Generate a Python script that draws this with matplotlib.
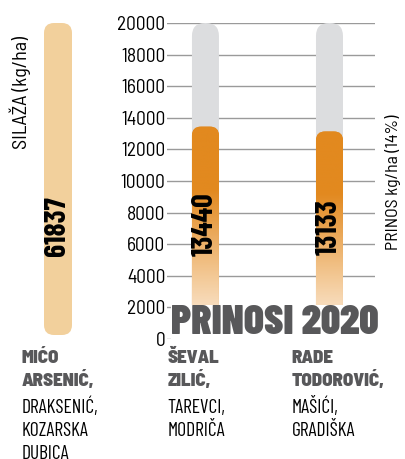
import numpy as np
import matplotlib
matplotlib.use("Agg")
import matplotlib.pyplot as plt
from matplotlib.patches import FancyBboxPatch
from matplotlib.colors import LinearSegmentedColormap

plt.rcParams['font.family'] = ['Barlow Semi Condensed', 'DejaVu Sans']
NUMFONT = ['Barlow Condensed', 'DejaVu Sans']

# data
farmers = ['ŠEVAL\nZILIĆ,', 'RADE\nTODOROVIĆ,']
places = ['TAREVCI,\nMODRIČA', 'MAŠIĆI,\nGRADIŠKA']
prinos = [13440, 13133]
prinos_max = 20000
silaza_farmer = 'MIĆO\nARSENIĆ,'
silaza_place = 'DRAKSENIĆ,\nKOZARSKA\nDUBICA'
silaza = [61837]
yticks = list(range(0, 20001, 2000))

ORANGE = '#E2891F'
GREY = '#DCDDDF'
SAND = '#F2D09C'
DARK = '#58585A'

W, H = 405, 459
fig = plt.figure(figsize=(W / 100, H / 100), dpi=100)


def px_axes(x0, y0, x1, y1):
    return fig.add_axes([x0 / W, 1 - y1 / H, (x1 - x0) / W, (y1 - y0) / H])


def rounded(ax, patch, color, r_px, zorder):
    # swap a rectangle bar for a rounded one
    x, y = patch.get_x(), patch.get_y()
    w, h = patch.get_width(), patch.get_height()
    bb = ax.get_window_extent()
    xr = ax.get_xlim()[1] - ax.get_xlim()[0]
    yr = ax.get_ylim()[1] - ax.get_ylim()[0]
    ux = xr / bb.width
    uy = yr / bb.height
    fb = FancyBboxPatch((x, y), w, h,
                        boxstyle=f"round,pad=0,rounding_size={r_px * ux}",
                        mutation_aspect=uy / ux, fc=color, ec='none',
                        zorder=zorder)
    ax.add_patch(fb)
    patch.remove()
    return fb


def label_block(x_px, bold, plain):
    # bold name lines, then the place lines, one baseline per line
    base = 363
    for line in bold.split('\n'):
        fig.text(x_px / W, 1 - base / H, line, fontsize=13.5,
                 fontweight='black', color=DARK, va='baseline', ha='left')
        base += 23
    base += 4
    for line in plain.split('\n'):
        fig.text(x_px / W, 1 - base / H, line, fontsize=14, color='black',
                 va='baseline', ha='left', family=NUMFONT)
        base += 23


# main chart
ax = px_axes(167, 23, 375, 339)
ax.set_xlim(-0.31, 1.367)
ax.set_ylim(0, prinos_max)
xs = np.arange(len(prinos))
bw = 27 / 124

bg = ax.bar(xs, [prinos_max] * len(prinos), width=bw, color=GREY, zorder=2)
for p in list(bg.patches):
    rounded(ax, p, GREY, 13, 2)

cmap = LinearSegmentedColormap.from_list(
    'fade', [(0, '#FDF3EA'), (0.3, '#F3C894'), (0.7, ORANGE), (1, ORANGE)])
fg = ax.bar(xs, prinos, width=bw, color=ORANGE, zorder=3)
for p, v, x in zip(list(fg.patches), prinos, xs):
    fb = rounded(ax, p, ORANGE, 9, 3)
    grad = np.linspace(0, 1, 256).reshape(-1, 1)
    im = ax.imshow(grad, cmap=cmap, origin='lower', aspect='auto',
                   extent=(x - bw / 2, x + bw / 2, 0, v), zorder=3.5)
    im.set_clip_path(fb)
    ax.text(x, v * 0.54, f"{v}", rotation=90, ha='center', va='center',
            fontsize=21.5, fontweight='bold', color='black', zorder=5,
            family=NUMFONT)
ax.set_xlim(-0.31, 1.367)
ax.set_ylim(0, prinos_max)

ax.set_yticks(yticks)
ax.set_yticklabels([str(t) for t in yticks], fontsize=14)
ax.tick_params(axis='y', length=0, pad=1)
ax.set_xticks([])
ax.yaxis.grid(True, color='#9A9A9A', lw=1, zorder=1)
for s in ax.spines.values():
    s.set_visible(False)

ax.text(0.52, 0.052, 'PRINOSI 2020', transform=ax.transAxes, ha='center',
        va='center', fontsize=30, fontweight='black', color=DARK, zorder=6,
        family=NUMFONT, bbox=dict(fc='white', ec='none', pad=0))

fig.text(393 / W, 1 - 182 / H, 'PRINOS kg/ha (14%)', rotation=90,
         ha='center', va='center', fontsize=12.8)

for x, f, pl in zip(xs, farmers, places):
    label_block(ax.transData.transform((x, 0))[0] - 38, f, pl)

# silaza bar
ax2 = px_axes(30, 23, 86, 335)
ax2.set_xlim(-1, 1)
ax2.set_ylim(0, silaza[0])
sb = ax2.bar([0], silaza, width=1.0, color=SAND)
for p in list(sb.patches):
    rounded(ax2, p, SAND, 10, 2)
ax2.set_xlim(-1, 1)
ax2.set_ylim(0, silaza[0])
ax2.text(0, silaza[0] * 0.35, f"{silaza[0]}", rotation=90, ha='center',
         va='center', fontsize=21.5, fontweight='bold', color='black',
         family=NUMFONT)
ax2.axis('off')
fig.text(20 / W, 1 - 93 / H, 'SILAŽA (kg/ha)', rotation=90, ha='center',
         va='center', fontsize=14.5)
label_block(22, silaza_farmer, silaza_place)

fig.savefig('out.png', dpi=100)
